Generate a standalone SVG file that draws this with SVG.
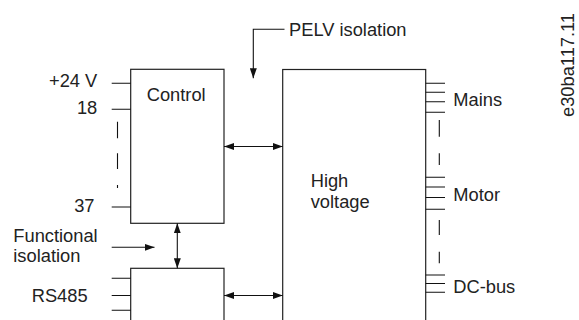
<svg xmlns="http://www.w3.org/2000/svg" width="579" height="320" viewBox="0 0 579 320">
<style>
.box{fill:#fff;stroke:#222;stroke-width:1.2}
.ln{fill:none;stroke:#111;stroke-width:1.1}
.t{font-family:"Liberation Sans",Arial,sans-serif;font-size:18.3px;fill:#222}
.e{text-anchor:end}
</style>
<defs>
<marker id="ah" viewBox="0 0 10 7" refX="10" refY="3.5" markerWidth="10" markerHeight="7" markerUnits="userSpaceOnUse" orient="auto-start-reverse">
<path d="M0,0 L10,3.5 L0,7 z" fill="#111"/>
</marker>
</defs>
<rect width="579" height="320" fill="#fff"/>
<g id="control">
<rect class="box" x="130.7" y="69.3" width="93.3" height="154"/>
<text class="t" x="146.7" y="101">Control</text>
<path class="ln" d="M111.7,83.3H130.7M111.7,109.3H130.7M111.7,207H130.7"/>
<path class="ln" d="M117.5,121.7V138.3M117.5,153.3V169M117.5,185V188"/>
<text class="t e" x="97.3" y="87.3">+24 V</text>
<text class="t e" x="97.3" y="114">18</text>
<text class="t e" x="94.5" y="212.3">37</text>
</g>
<g id="rs485">
<rect class="box" x="130.7" y="268.3" width="93.3" height="60"/>
<path class="ln" d="M111.7,278.3H130.7M111.7,295.5H130.7M111.7,310.3H130.7"/>
<text class="t" x="31.7" y="301.7">RS485</text>
</g>
<g id="highvoltage">
<rect class="box" x="282.7" y="69.5" width="143" height="260"/>
<text class="t" x="310.7" y="187.3">High</text>
<text class="t" x="310.7" y="207.7">voltage</text>
<path class="ln" d="M425.7,83.3H445M425.7,92.3H445M425.7,101.7H445M425.7,112.3H445"/>
<path class="ln" d="M439.3,120V136.7M439.3,153.3V165"/>
<path class="ln" d="M425.7,177.3H445M425.7,187H445M425.7,197.5H445M425.7,209.3H445"/>
<path class="ln" d="M439.3,220V235M439.3,251.7V263.3"/>
<path class="ln" d="M425.7,275H445M425.7,283.5H445M425.7,292.3H445"/>
<text class="t" x="453.3" y="105.5">Mains</text>
<text class="t" x="453.3" y="201">Motor</text>
<text class="t" x="453.3" y="293.3">DC-bus</text>
</g>
<g id="pelv">
<text class="t" x="289" y="35.5">PELV isolation</text>
</g>
<g id="functional">
<text class="t" x="13.3" y="242.3">Functional</text>
<text class="t" x="13.3" y="262.3">isolation</text>
</g>
<g id="connectors">
<path class="ln" d="M284.5,29.3H253.3V78.3" marker-end="url(#ah)"/>
<path class="ln" d="M224,146.5H282.7" marker-start="url(#ah)" marker-end="url(#ah)"/>
<path class="ln" d="M177.3,223.3V268.3" marker-start="url(#ah)" marker-end="url(#ah)"/>
<path class="ln" d="M111.7,247.3H154.5" marker-end="url(#ah)"/>
<path class="ln" d="M224,295.5H282.7" marker-start="url(#ah)" marker-end="url(#ah)"/>
</g>
<text class="t" transform="translate(574,65) rotate(-90)" text-anchor="middle">e30ba117.11</text>
</svg>
